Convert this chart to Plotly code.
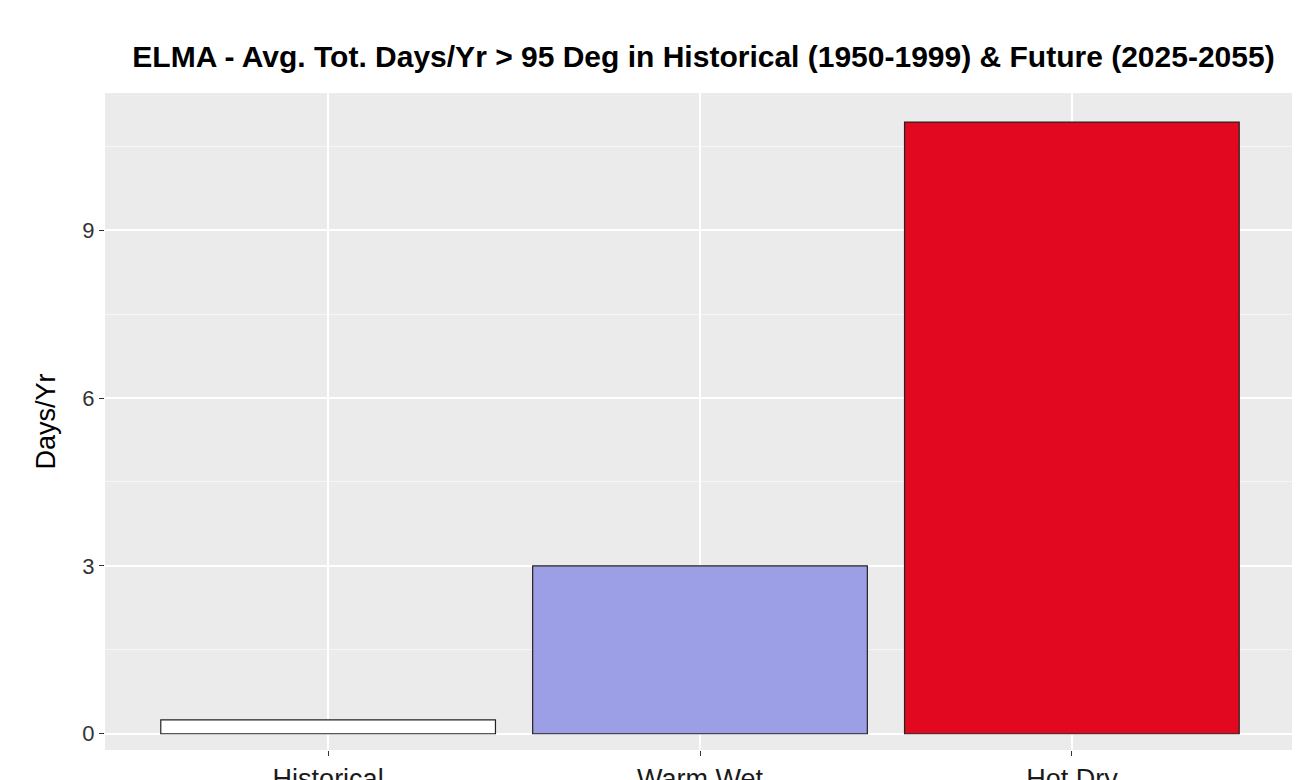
import plotly.graph_objects as go

# values
categories = ["Historical", "Warm Wet", "Hot Dry"]
days_per_yr = [0.25, 3.0, 10.93]
bar_colors = ["#FFFFFF", "#9C9FE5", "#E10820"]
y_ticks = [0, 3, 6, 9]

fig = go.Figure(go.Bar(
    x=categories, y=days_per_yr,
    marker=dict(color=bar_colors, line=dict(color="#222222", width=1.2)),
    width=0.9,
))

fig.update_layout(
    width=1300, height=780,
    paper_bgcolor="white", plot_bgcolor="#EBEBEB",
    margin=dict(l=97, r=13, t=85, b=38, autoexpand=False),
    showlegend=False,
    font=dict(family="Liberation Sans, Arial", color="black"),
    title=dict(text="<b>ELMA - Avg. Tot. Days/Yr > 95 Deg in Historical (1950-1999) & Future (2025-2055)</b>",
               x=0.535, xanchor="center", y=0.938, yanchor="middle", font=dict(size=30)),
)
fig.update_xaxes(range=[-0.6, 2.6], showgrid=True, gridcolor="white", gridwidth=1.5,
                 ticks="outside", ticklen=5, tickcolor="#333333",
                 tickfont=dict(size=27, color="#1a1a1a"), zeroline=False, automargin=False)
fig.update_yaxes(range=[-0.29, 11.45], tickvals=y_ticks, showgrid=True, gridcolor="white",
                 gridwidth=1.5, minor=dict(dtick=1.5, tick0=1.5, showgrid=True, gridcolor="#F6F6F6", gridwidth=1),
                 ticks="outside", ticklen=5, tickcolor="#333333",
                 tickfont=dict(size=22, color="#333333"), zeroline=False, automargin=False,
                 title=dict(text="Days/Yr", font=dict(size=27), standoff=18))

fig.write_html("out.html")
